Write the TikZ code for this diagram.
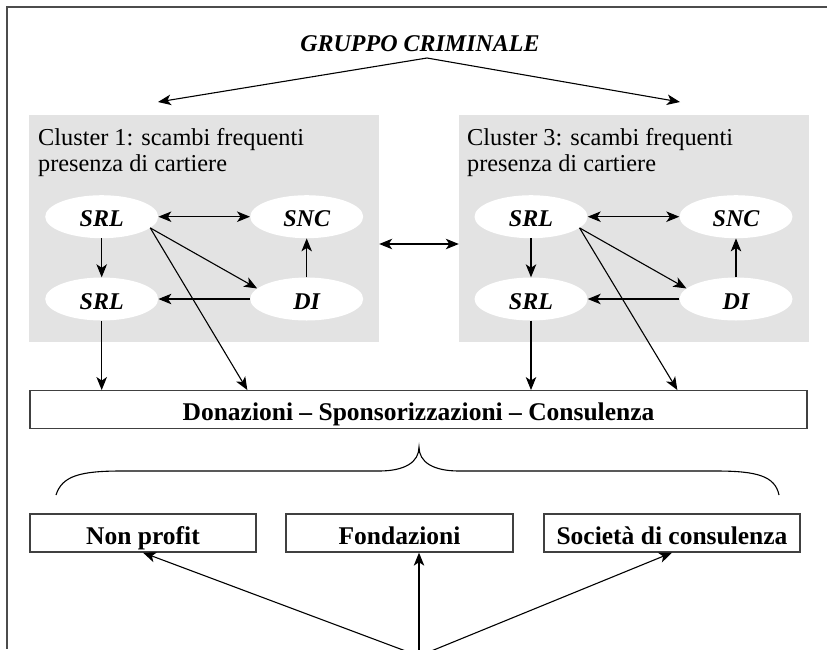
\documentclass[tikz,border=0pt]{standalone}
\usepackage{fontspec}
\setmainfont{Liberation Serif}
\usetikzlibrary{shapes.geometric,arrows.meta,calc}
\definecolor{clgray}{HTML}{E3E3E3}
\begin{document}
\begin{tikzpicture}[x=1pt,y=-1pt,
  arr/.style={-{Stealth[length=13pt,width=10.5pt,inset=3.5pt]}, line width=1.1pt},
  darr/.style={{Stealth[length=13pt,width=10.5pt,inset=3.5pt]}-{Stealth[length=13pt,width=10.5pt,inset=3.5pt]}, line width=1.1pt},
  cluster/.style={rectangle, fill=clgray, minimum width=350pt, minimum height=227pt, inner sep=0pt},
  ent/.style={ellipse, fill=white, minimum width=113pt, minimum height=43pt, inner sep=0pt, text height=20pt, text depth=0pt, font=\fontsize{24}{26}\selectfont\bfseries\itshape},
  box/.style={rectangle, draw=black!75, line width=1.3pt, minimum height=38pt, inner sep=0pt, text height=22pt, text depth=0pt, font=\fontsize{25.5}{27}\selectfont\bfseries},
  ttl/.style={anchor=base west, inner sep=0pt, font=\fontsize{24.3}{26}\selectfont}
]
\useasboundingbox (0,0) rectangle (827,649);
\draw[line width=1.3pt, black!70] (827,7) -- (7,7) -- (7,649);

% title
\node[anchor=base, inner sep=0pt, font=\fontsize{24}{26}\selectfont\bfseries\itshape] (gr) at (420,51) {GRUPPO CRIMINALE};
\coordinate (apex) at (427,58);
\coordinate (gl) at (158,102);
\coordinate (grr) at (680,102);
\draw[arr] (apex) -- (gl);
\draw[arr] (apex) -- (grr);

% clusters
\node[cluster] (c1) at (204,228.5) {};
\node[cluster] (c2) at (634,228.5) {};
\node[ttl] (t1a) at (38,145) {Cluster 1: scambi frequenti};
\node[ttl] (t1b) at (38,171) {presenza di cartiere};
\node[ttl] (t3a) at (467,145) {Cluster 3: scambi frequenti};
\node[ttl] (t3b) at (467,171) {presenza di cartiere};

% main box
\node[box, minimum width=777pt] (don) at (418.5,409.7) {Donazioni – Sponsorizzazioni – Consulenza};

% cluster 1 entities
\node[ent] (s1) at (101.7,216.7) {SRL};
\node[ent] (n1) at (306.7,216.7) {SNC};
\node[ent] (s2) at (101.7,299) {SRL};
\node[ent] (d1) at (306.7,299) {DI};
% cluster 3 entities
\node[ent] (s3) at (531,216.7) {SRL};
\node[ent] (n3) at (736,216.7) {SNC};
\node[ent] (s4) at (531,299) {SRL};
\node[ent] (d3) at (736,299) {DI};

% cluster 1 arrows
\draw[darr] (s1) -- (n1);
\draw[arr] (s1) -- (s2);
\draw[arr] (d1) -- (n1);
\draw[arr] (d1) -- (s2);
\draw[arr] (s1.-13) -- (d1.168);
\draw[arr] (s1.-13) -- ([xshift=218pt]don.north west);
\draw[arr] (s2) -- (s2 |- don.north);
% cluster 3 arrows
\draw[darr] (s3) -- (n3);
\draw[arr] (s3) -- (s4);
\draw[arr] (d3) -- (n3);
\draw[arr] (d3) -- (s4);
\draw[arr] (s3.-13) -- (d3.168);
\draw[arr] (s3.-13) -- ([xshift=648pt]don.north west);
\draw[arr] (s4) -- (s4 |- don.north);

% between clusters
\draw[darr] ([yshift=-15.5pt]c1.east) -- ([yshift=-15.5pt]c2.west);

% brace
\draw[line width=1.1pt] (56,495) .. controls (62,476) and (80,471) .. (121,471) -- (379,471) .. controls (405,471) and (419,462) .. (419,447) .. controls (419,462) and (433,471) .. (459,471) -- (716,471) .. controls (757,471) and (775,476) .. (779,495);

% bottom boxes
\node[box, minimum width=226pt] (np) at (143,533) {Non profit};
\node[box, minimum width=227pt] (fo) at (399.5,533) {Fondazioni};
\node[box, minimum width=256pt] (sc) at (672,533) {Società di consulenza};

\coordinate (src) at (419,656);
\draw[arr] (src) -- (np.south);
\draw[arr] (src) -- (src |- fo.south);
\draw[arr] (src) -- (sc.south);
\end{tikzpicture}
\end{document}
